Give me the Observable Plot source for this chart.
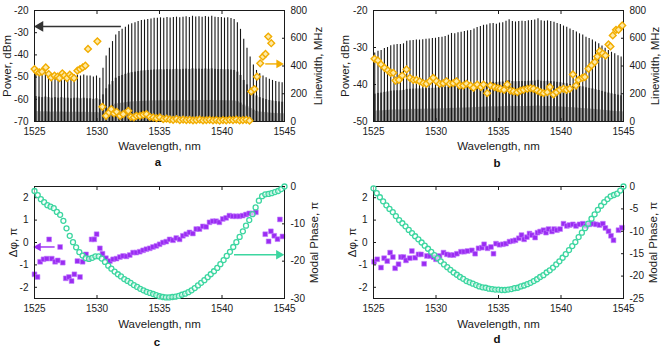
<!DOCTYPE html>
<html><head><meta charset="utf-8">
<script src="https://cdn.jsdelivr.net/npm/d3@7"></script>
<script src="https://cdn.jsdelivr.net/npm/@observablehq/plot@0.6"></script>
<style>
body{margin:0;background:#fff;font-family:"Liberation Sans",Arial,Helvetica,sans-serif;}
#root{position:relative;width:661px;height:354px;overflow:hidden;background:#fff;}
.panel{position:absolute;}
.panel svg{position:absolute;left:0;top:0;overflow:visible;}
.letter{position:absolute;font-weight:bold;font-size:11.5px;transform:translate(-50%,-50%);color:#111;}
</style></head><body><div id="root"></div>
<script>
// ---------- data ----------
const xTicks = [1525, 1530, 1535, 1540, 1545];
const powerTicksA = [-70, -60, -50, -40, -30, -20];
const powerTicksB = [-50, -40, -30, -20];
const linewidthTicks = [0, 200, 400, 600, 800];
const dphiTicks = [-2, -1, 0, 1, 2];
const modalTicksC = [0, -10, -20, -30];
const modalTicksD = [0, -5, -10, -15, -20, -25];

const combLambda = [1525.10,1525.36,1525.61,1525.87,1526.12,1526.38,1526.64,1526.89,1527.15,1527.40,1527.66,1527.92,1528.17,1528.43,1528.68,1528.94,1529.20,1529.45,1529.71,1529.96,1530.22,1530.48,1530.73,1530.99,1531.24,1531.50,1531.76,1532.01,1532.27,1532.52,1532.78,1533.04,1533.29,1533.55,1533.80,1534.06,1534.32,1534.57,1534.83,1535.08,1535.34,1535.60,1535.85,1536.11,1536.36,1536.62,1536.88,1537.13,1537.39,1537.64,1537.90,1538.16,1538.41,1538.67,1538.92,1539.18,1539.44,1539.69,1539.95,1540.20,1540.46,1540.72,1540.97,1541.23,1541.48,1541.74,1542.00,1542.25,1542.51,1542.76,1543.02,1543.28,1543.53,1543.79,1544.04,1544.30,1544.56,1544.81];
const powerA = [-47.5,-48,-48.5,-48,-48.5,-49,-48.5,-49,-48.5,-49,-49,-49.5,-49,-49,-49.5,-49,-49.5,-49.5,-50,-49.5,-50.5,-46,-40.5,-37,-34,-31,-29.5,-28.5,-27.5,-26.5,-26,-25.5,-25,-24.5,-24.3,-24,-23.8,-23.5,-23.5,-23.3,-23.5,-23.2,-23.4,-23.2,-23.0,-23.3,-23.0,-22.8,-23.1,-22.6,-22.9,-22.8,-23.0,-22.7,-23.0,-22.6,-23.0,-23.2,-23.1,-23.4,-23.3,-23.6,-24.0,-25.5,-28.5,-33.0,-37.0,-41.0,-44.5,-47.0,-48.5,-49.5,-50.3,-51,-51.5,-52,-52.3,-52.6];
const powerB = [-31.5,-31,-30.8,-30.3,-30,-29.5,-29.3,-29.2,-29.2,-29.0,-28.3,-28.2,-28.1,-28.0,-28.0,-27.9,-27.8,-27.7,-27.6,-27.5,-27.3,-27.2,-27.0,-26.7,-26.2,-26.3,-26.0,-25.9,-25.7,-25.5,-25.4,-25.0,-24.6,-24.3,-24.0,-23.9,-23.6,-23.5,-23.7,-23.4,-23.3,-22.9,-22.5,-23.0,-23.1,-23.0,-22.9,-23.0,-22.8,-22.7,-22.6,-22.2,-22.8,-22.9,-22.8,-23.0,-23.2,-23.5,-23.8,-24.2,-24.5,-25.0,-25.4,-25.8,-26.3,-26.6,-27.2,-27.6,-28.0,-28.5,-29.0,-29.6,-30.2,-30.8,-31.3,-31.7,-32.2,-32.6];

const linewidthALambda = [1525.00,1525.19,1525.40,1525.60,1525.90,1526.14,1526.33,1526.60,1526.84,1527.00,1527.23,1527.40,1527.60,1527.82,1527.98,1528.16,1528.43,1528.64,1528.86,1529.07,1529.28,1530.03,1530.43,1530.72,1530.96,1531.14,1531.36,1531.57,1531.84,1532.10,1532.50,1532.71,1532.95,1533.16,1533.43,1533.70,1533.96,1534.23,1534.50,1534.76,1535.03,1535.30,1535.56,1535.83,1536.09,1536.36,1536.62,1536.89,1537.15,1537.42,1537.68,1537.95,1538.22,1538.48,1538.75,1539.01,1539.28,1539.55,1539.81,1540.08,1540.34,1540.61,1540.88,1541.14,1541.41,1541.67,1541.94,1542.20,1542.34,1542.60,1542.80,1543.06,1543.27,1543.48,1543.70,1543.94];
const linewidthA = [378,359,354,359,390,342,318,330,323,313,347,330,313,337,323,313,366,378,390,402,523,578,106,41,65,89,58,70,41,53,77,34,29,41,41,48,53,34,29,24,29,17,20,15,12,18,10,14,10,12,8,10,14,8,10,12,8,10,6,10,8,12,10,14,8,10,12,6,217,234,323,419,467,487,612,564];

const linewidthBLambda = [1525.08,1525.35,1525.60,1525.88,1526.15,1526.36,1526.58,1526.76,1527.03,1527.30,1527.64,1527.90,1528.18,1528.44,1528.70,1528.98,1529.24,1529.50,1529.78,1530.04,1530.30,1530.58,1530.84,1531.10,1531.38,1531.64,1531.90,1532.18,1532.44,1532.76,1533.00,1533.30,1533.60,1533.80,1534.10,1534.36,1534.68,1534.95,1535.16,1535.44,1535.70,1535.96,1536.20,1536.50,1536.76,1537.00,1537.30,1537.56,1537.80,1538.10,1538.36,1538.60,1538.90,1539.10,1539.40,1539.64,1539.90,1540.20,1540.44,1540.70,1540.95,1541.20,1541.40,1541.70,1541.90,1542.20,1542.44,1542.70,1542.90,1543.10,1543.34,1543.56,1543.80,1543.96,1544.14,1544.40,1544.60,1544.90];
const linewidthB = [452,440,411,387,368,351,351,295,300,331,375,315,300,300,290,276,272,290,315,290,272,276,290,272,276,290,259,259,272,259,243,266,248,266,204,259,248,240,236,228,267,223,218,211,223,228,236,240,236,223,211,204,211,248,195,211,228,236,228,236,339,259,300,315,320,380,404,428,468,507,490,475,555,541,620,661,661,692];

const phaseLambda = [1525.00,1525.26,1525.51,1525.77,1526.03,1526.28,1526.54,1526.79,1527.05,1527.31,1527.56,1527.82,1528.08,1528.33,1528.59,1528.85,1529.10,1529.36,1529.62,1529.87,1530.13,1530.38,1530.64,1530.90,1531.15,1531.41,1531.67,1531.92,1532.18,1532.44,1532.69,1532.95,1533.21,1533.46,1533.72,1533.97,1534.23,1534.49,1534.74,1535.00,1535.26,1535.51,1535.77,1536.03,1536.28,1536.54,1536.79,1537.05,1537.31,1537.56,1537.82,1538.08,1538.33,1538.59,1538.85,1539.10,1539.36,1539.62,1539.87,1540.13,1540.38,1540.64,1540.90,1541.15,1541.41,1541.67,1541.92,1542.18,1542.44,1542.69,1542.95,1543.21,1543.46,1543.72,1543.97,1544.23,1544.49,1544.74,1545.00];
const modalPhaseC = [-1.2,-2.3,-3.4,-4.2,-5.0,-5.4,-5.8,-6.8,-7.6,-9.2,-11.2,-13.2,-14.9,-16.3,-17.6,-18.5,-19.2,-19.4,-19.1,-18.7,-18.7,-19.3,-20.2,-21.2,-22.0,-22.8,-23.5,-24.1,-24.8,-25.3,-25.8,-26.4,-26.9,-27.4,-27.8,-28.2,-28.5,-28.8,-29.1,-29.4,-29.6,-29.7,-29.7,-29.6,-29.5,-29.3,-29.0,-28.7,-28.3,-27.8,-27.2,-26.5,-25.8,-25.1,-24.3,-23.5,-22.7,-21.8,-20.8,-19.7,-18.6,-17.5,-16.2,-14.9,-13.5,-12.0,-10.5,-9.0,-7.4,-5.6,-3.8,-2.6,-2.1,-2.0,-1.8,-1.5,-1.2,-0.7,0.0];
const modalPhaseD = [-0.4,-1.5,-2.4,-3.3,-4.2,-5.0,-5.7,-6.6,-7.5,-8.2,-8.9,-9.7,-10.4,-11.1,-11.8,-12.5,-13.2,-13.9,-14.6,-15.3,-16.0,-16.7,-17.4,-18.0,-18.6,-19.2,-19.7,-20.2,-20.6,-21.1,-21.4,-21.7,-22.0,-22.3,-22.5,-22.6,-22.8,-22.9,-23.0,-23.0,-23.1,-23.1,-23.0,-22.9,-22.7,-22.6,-22.3,-22.1,-21.8,-21.5,-21.1,-20.7,-20.2,-19.8,-19.2,-18.7,-18.1,-17.4,-16.7,-15.9,-15.1,-14.2,-13.3,-12.4,-11.3,-10.3,-9.3,-8.3,-7.2,-6.2,-5.2,-4.3,-3.5,-2.8,-2.2,-1.9,-1.6,-0.9,0.0];

const dphiCLambda = [1525.00,1525.24,1525.45,1525.72,1525.98,1526.17,1526.38,1526.65,1526.86,1527.05,1527.26,1527.50,1527.76,1527.97,1528.19,1528.43,1528.64,1528.85,1529.12,1529.33,1529.57,1529.78,1529.97,1530.23,1530.44,1530.71,1531.03,1531.29,1531.56,1531.83,1532.09,1532.36,1532.62,1532.89,1533.15,1533.42,1533.69,1533.95,1534.22,1534.48,1534.75,1535.01,1535.28,1535.54,1535.81,1536.08,1536.34,1536.61,1536.87,1537.14,1537.40,1537.67,1537.94,1538.20,1538.47,1538.73,1539.00,1539.26,1539.53,1539.79,1540.06,1540.33,1540.59,1540.86,1541.12,1541.39,1541.65,1541.92,1542.18,1542.45,1542.71,1543.46,1543.73,1543.91,1544.18,1544.44,1544.63,1544.84];
const dphiC = [-1.42,-1.54,-0.86,-0.75,-0.72,0.14,-0.72,-0.86,-0.80,-0.20,-0.90,-1.60,-1.54,-1.72,-1.42,-0.83,-1.54,-0.86,-0.53,-0.72,0.14,0.14,0.37,-0.26,-0.50,-0.70,-0.83,-0.75,-0.72,-0.65,-0.60,-0.62,-0.56,-0.45,-0.45,-0.41,-0.35,-0.30,-0.26,-0.20,-0.15,-0.08,0.00,0.04,0.14,0.10,0.20,0.14,0.30,0.37,0.45,0.40,0.60,0.60,0.72,0.70,0.90,0.95,0.95,0.90,1.05,1.10,1.20,1.17,1.17,1.17,1.20,1.25,1.30,1.30,1.35,0.37,0.05,0.50,0.30,0.15,1.03,0.27];

const dphiDLambda = [1525.05,1525.30,1525.60,1525.85,1526.10,1526.33,1526.55,1526.73,1527.00,1527.20,1527.40,1527.60,1527.90,1528.07,1528.33,1528.60,1528.80,1529.05,1529.27,1529.53,1529.80,1530.00,1530.28,1530.60,1530.87,1531.13,1531.40,1531.67,1532.00,1532.25,1532.52,1532.87,1533.13,1533.40,1533.67,1533.85,1534.12,1534.40,1534.60,1534.80,1535.08,1535.35,1535.60,1535.88,1536.15,1536.36,1536.63,1536.84,1537.05,1537.27,1537.48,1537.67,1537.93,1538.12,1538.33,1538.60,1538.80,1539.00,1539.27,1539.45,1539.67,1539.93,1540.20,1540.47,1540.68,1540.95,1541.20,1541.48,1541.75,1542.00,1542.28,1542.55,1542.80,1543.08,1543.35,1543.55,1543.80,1544.00,1544.20,1544.60,1544.87];
const dphiD = [-0.86,-0.75,-1.12,-0.70,-0.83,-0.45,-0.65,-1.15,-0.97,-0.65,-0.65,-0.80,-0.70,-0.38,-0.68,-0.53,-0.53,-0.95,-0.60,-0.60,-0.65,-0.75,-0.60,-0.45,-0.53,-0.56,-0.56,-0.50,-0.41,-0.41,-0.38,-0.35,-0.50,-0.26,-0.23,-0.08,-0.26,-0.20,-0.50,-0.05,-0.10,-0.08,-0.05,0.04,0.07,0.10,0.19,0.33,0.14,0.24,0.40,0.33,0.22,0.44,0.49,0.55,0.44,0.60,0.49,0.60,0.55,0.60,0.84,0.74,0.78,0.81,0.74,0.81,0.84,0.74,0.81,0.84,0.81,0.78,0.84,0.65,0.50,0.30,0.10,0.55,0.66];

// annotation arrows (data coordinates)
const arrowPowerA = [{x1: 1531.95, x2: 1525.45, y: -27.2}];
const arrowLinewidthA = [{x1: 1543.5, x2: 1544.55, y: 415}];
const arrowDphiC = [{x1: 1526.65, x2: 1525.3, y: -0.2}];
const arrowModalC = [{x1: 1541.0, x2: 1544.55, y: -18.3}];

// ---------- styling ----------
const FONT = "'Liberation Sans', Arial, Helvetica, sans-serif";
const INK = "#1a1a1a";
const ORANGE = "#f2ad00";
const GREEN = "#3cd6a0";
const PURPLE = "#9a2cf2";
const X_DOMAIN = [1525, 1545];
const fmt = d => String(d);

const root = document.getElementById("root");

function makeSvg(w, h, m, yDomain, marks) {
  const svg = Plot.plot({
    width: w, height: h,
    marginLeft: m[0], marginRight: m[1], marginTop: m[2], marginBottom: m[3],
    x: {domain: X_DOMAIN, axis: null},
    y: {domain: yDomain, axis: null},
    style: {background: "transparent", fontFamily: FONT, fontSize: "10px", color: INK, overflow: "visible"},
    marks
  });
  d3.select(svg).selectAll('g[aria-label$="axis label"]').attr("font-size", 11.5);
  return svg;
}

function arrowMarks(data, color, dir, r) {
  return [
    Plot.ruleY(data, {x1: "x1", x2: "x2", y: "y", stroke: color, strokeWidth: 1.4}),
    Plot.dot(data, {x: "x2", y: "y", symbol: "triangle", rotate: dir, fill: color, stroke: "none", r})
  ];
}

function xAxes(label, labelOffset) {
  return [
    Plot.axisX({ticks: xTicks, tickSize: -3, tickPadding: 9, tickFormat: fmt, label, labelAnchor: "center", labelOffset, labelArrow: "none"}),
    Plot.axisX({anchor: "top", ticks: xTicks, tickSize: -3, tickFormat: () => "", label: null})
  ];
}

function addPanel(pos, left, right, letter, letterPos) {
  const div = document.createElement("div");
  div.className = "panel";
  div.style.left = pos.left + "px"; div.style.top = pos.top + "px";
  div.style.width = pos.w + "px"; div.style.height = pos.h + "px";
  div.appendChild(makeSvg(pos.w, pos.h, pos.m, left.domain, left.marks));
  div.appendChild(makeSvg(pos.w, pos.h, pos.m, right.domain, right.marks));
  root.appendChild(div);
  const lt = document.createElement("div");
  lt.className = "letter"; lt.textContent = letter;
  lt.style.left = letterPos[0] + "px"; lt.style.top = letterPos[1] + "px";
  root.appendChild(lt);
}

// each comb line: a thin dark core to its peak, with grey skirts near the floor
function combMarks(lambda, power, base, fracs) {
  const data = lambda.map((l, i) => ({
    lambda: l, power: power[i],
    low: base + fracs[0] * (power[i] - base),
    mid: base + fracs[1] * (power[i] - base)
  }));
  return [
    Plot.ruleX(data, {x: "lambda", y1: base, y2: "low", stroke: "#8a8a8a", strokeWidth: 3.0}),
    Plot.ruleX(data, {x: "lambda", y1: base, y2: "mid", stroke: "#6a6a6a", strokeWidth: 2.1}),
    Plot.ruleX(data, {x: "lambda", y1: base, y2: "power", stroke: "#151515", strokeWidth: 1.1})
  ];
}

const diamonds = (lambda, vals) => Plot.dot(lambda.map((l, i) => ({l, v: vals[i]})), {
  x: "l", y: "v", symbol: "square", rotate: 45, r: 2.7, stroke: ORANGE, strokeWidth: 1.4, fill: "#fde9a6"
});
const circles = (lambda, vals) => Plot.dot(lambda.map((l, i) => ({l, v: vals[i]})), {
  x: "l", y: "v", symbol: "circle", r: 2.5, stroke: GREEN, strokeWidth: 1.3, fill: "#ffffff", fillOpacity: 0.6
});
const squares = (lambda, vals) => Plot.dot(lambda.map((l, i) => ({l, v: vals[i]})), {
  x: "l", y: "v", symbol: "square", r: 2.7, fill: PURPLE, stroke: "#c27cff", strokeWidth: 0.6
});

// ---------- panel a ----------
addPanel({left: 0, top: 0, w: 330, h: 170, m: [34, 46, 10, 49]},
  {domain: [-70, -20], marks: [
    ...combMarks(combLambda, powerA, -70, [0.2, 0.5]),
    ...arrowMarks(arrowPowerA, "#333", -90, 4),
    Plot.frame({stroke: INK}),
    Plot.axisY({ticks: powerTicksA, tickSize: -3, tickPadding: 9, tickFormat: fmt, label: "Power, dBm", labelAnchor: "center", labelOffset: 32, labelArrow: "none"}),
    ...xAxes("Wavelength, nm", 28)
  ]},
  {domain: [0, 800], marks: [
    diamonds(linewidthALambda, linewidthA),
    ...arrowMarks(arrowLinewidthA, ORANGE, 90, 3.2),
    Plot.axisY({anchor: "right", ticks: linewidthTicks, tickSize: -3, tickPadding: 9, tickFormat: fmt, label: "Linewidth, MHz", labelAnchor: "center", labelOffset: 37, labelArrow: "none"})
  ]},
  "a", [158, 162]);

// ---------- panel b ----------
addPanel({left: 330, top: 0, w: 331, h: 170, m: [43, 38, 10, 49]},
  {domain: [-50, -20], marks: [
    ...combMarks(combLambda, powerB, -50, [0.15, 0.4]),
    Plot.frame({stroke: INK}),
    Plot.axisY({ticks: powerTicksB, tickSize: -3, tickPadding: 9, tickFormat: fmt, label: "Power, dBm", labelAnchor: "center", labelOffset: 33, labelArrow: "none"}),
    ...xAxes("Wavelength, nm", 28)
  ]},
  {domain: [0, 800], marks: [
    diamonds(linewidthBLambda, linewidthB),
    Plot.axisY({anchor: "right", ticks: linewidthTicks, tickSize: -3, tickPadding: 9, tickFormat: fmt, label: "Linewidth, MHz", labelAnchor: "center", labelOffset: 35, labelArrow: "none"})
  ]},
  "b", [497, 163]);

// ---------- panel c ----------
addPanel({left: 0, top: 170, w: 330, h: 184, m: [34, 46, 16, 56]},
  {domain: [-2.5, 2.5], marks: [
    squares(dphiCLambda, dphiC),
    ...arrowMarks(arrowDphiC, PURPLE, -90, 3.2),
    Plot.frame({stroke: INK}),
    Plot.axisY({ticks: dphiTicks, tickSize: -3, tickPadding: 9, tickFormat: fmt, label: "Δφ, π", labelAnchor: "center", labelOffset: 26, labelArrow: "none"}),
    ...xAxes("Wavelength, nm", 29)
  ]},
  {domain: [-30, 0], marks: [
    circles(phaseLambda, modalPhaseC),
    ...arrowMarks(arrowModalC, GREEN, 90, 3.5),
    Plot.axisY({anchor: "right", ticks: modalTicksC, tickSize: -3, tickPadding: 9, tickFormat: fmt, label: "Modal Phase, π", labelAnchor: "center", labelOffset: 33, labelArrow: "none"})
  ]},
  "c", [157, 342]);

// ---------- panel d ----------
addPanel({left: 330, top: 170, w: 331, h: 184, m: [43, 38, 16, 56]},
  {domain: [-2.5, 2.5], marks: [
    squares(dphiDLambda, dphiD),
    Plot.frame({stroke: INK}),
    Plot.axisY({ticks: dphiTicks, tickSize: -3, tickPadding: 9, tickFormat: fmt, label: "Δφ, π", labelAnchor: "center", labelOffset: 26, labelArrow: "none"}),
    ...xAxes("Wavelength, nm", 29)
  ]},
  {domain: [-25, 0], marks: [
    circles(phaseLambda, modalPhaseD),
    Plot.axisY({anchor: "right", ticks: modalTicksD, tickSize: -3, tickPadding: 9, tickFormat: fmt, label: "Modal Phase, π", labelAnchor: "center", labelOffset: 33, labelArrow: "none"})
  ]},
  "d", [497, 339]);
</script></body></html>
